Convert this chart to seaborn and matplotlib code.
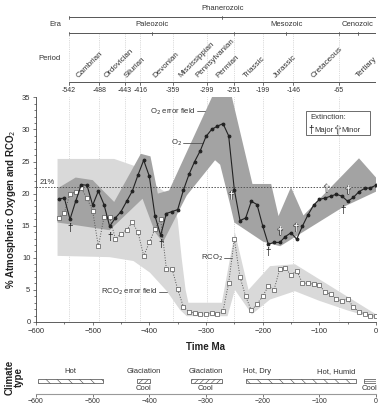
import matplotlib
matplotlib.use("Agg")
import matplotlib.pyplot as plt
import matplotlib.patheffects as pe
from matplotlib.patches import Rectangle
import numpy as np
import seaborn as sns

# --- DATA ---
time_ma = [-560, -550, -540, -530, -520, -510, -500, -490, -480, -470,
           -460, -450, -440, -430, -420, -410, -400, -390, -380, -370,
           -360, -350, -340, -330, -320, -310, -300, -290, -280, -270,
           -260, -250, -240, -230, -220, -210, -200, -190, -180, -170,
           -160, -150, -140, -130, -120, -110, -100, -90, -80, -70,
           -60, -50, -40, -30, -20, -10, 0]
o2 = [19.2, 19.3, 16.0, 18.8, 21.4, 21.3, 18.2, 20.4, 18.3, 14.9,
      16.2, 17.2, 18.8, 20.4, 22.9, 25.2, 22.7, 16.5, 13.5, 16.9,
      17.2, 17.5, 20.5, 23.0, 25.0, 26.7, 28.9, 30.0, 30.5, 30.9,
      29.0, 20.6, 15.8, 16.2, 18.8, 18.3, 15.0, 12.1, 12.4, 12.4,
      13.3, 13.9, 12.9, 14.9, 16.7, 18.2, 19.1, 19.3, 19.6, 19.9,
      19.6, 18.8, 19.4, 20.3, 20.8, 20.9, 21.3]
rco2 = [16.2, 17.0, 20.0, 20.2, 20.8, 19.3, 17.3, 11.8, 16.3, 16.3,
        13.0, 13.7, 14.4, 15.5, 14.0, 10.3, 12.4, 14.5, 16.0, 8.3,
        8.3, 5.1, 2.4, 1.6, 1.4, 1.3, 1.3, 1.4, 1.2, 1.7,
        6.1, 12.9, 7.0, 4.0, 1.8, 2.8, 4.0, 5.6, 5.0, 8.2,
        8.4, 7.3, 8.0, 6.1, 6.0, 5.9, 5.7, 4.7, 4.3, 3.6,
        3.2, 3.6, 2.3, 1.6, 1.3, 1.0, 0.9]

# O2 error field outline
o2_err_up_t = [-562, -530, -500, -462, -415, -398, -385, -365, -288, -255,
               -218, -185, -172, -150, -128, -30, 0]
o2_err_up_v = [20.8, 22.5, 22.1, 18.7, 26.2, 25.8, 20.0, 20.5, 35.3, 35.3,
               21.5, 21.5, 16.5, 21.0, 16.6, 25.5, 22.5]
o2_err_lo_t = [-562, -470, -412, -390, -376, -334, -284, -275, -258, -250,
               -199, -169, -140, -58, 0]
o2_err_lo_v = [15.5, 14.3, 19.2, 14.0, 12.4, 19.7, 25.2, 24.5, 18.5, 15.5,
               12.5, 11.8, 13.4, 17.9, 20.3]

# RCO2 error field outline
rco2_err_up_t = [-562, -462, -413, -393, -360, -350, -343, -336, -331, -272,
                 -249, -225, -187, -143, 0]
rco2_err_up_v = [25.4, 25.4, 23.9, 21.5, 19.5, 16.0, 10.0, 5.0, 3.0, 3.0,
                 14.0, 5.0, 8.7, 9.0, 1.2]
rco2_err_lo_t = [-562, -470, -428, -399, -369, -346, -334, -262, -249, -219,
                 -187, -143, -100, -50, 0]
rco2_err_lo_v = [10.3, 10.1, 9.5, 7.7, 4.8, 1.9, 0.9, 0.9, 5.0, 1.2,
                 3.5, 4.8, 3.3, 1.8, 0.5]

# extinction events
major_t = [-540, -469, -379, -190, -59]
major_v = [14.6, 13.3, 12.2, 10.9, 17.5]
minor_t = [-255, -169, -141, -87, -49]
minor_v = [19.7, 14.1, 14.7, 20.8, 20.5]

# geologic time scale
boundaries = [-542, -488, -443, -416, -359, -299, -251, -199, -146, -65]
periods = ["Cambrian", "Ordovician", "Silurian", "Devonian", "Mississippian",
           "Pennsylvanian", "Permian", "Triassic", "Jurassic", "Cretaceous", "Tertiary"]
period_label_t = [-522, -473, -438, -387, -341, -311, -275, -228, -175, -108, -28]
eras = ["Paleozoic", "Mesozoic", "Cenozoic"]
era_t = [-396, -158, -32]
era_bounds = [-542, -251, -65, 0]

# climate bands
climate_start = [-596, -422, -327, -230, -22]
climate_end = [-481, -399, -271, -35, 0]
climate_hatch = ["\\\\\\", "//////", "//////", "\\\\\\", "-----"]
climate_top_t = [-540, -410, -300, -210, -70]
climate_top_txt = ["Hot", "Glaciation", "Glaciation", "Hot, Dry", "Hot, Humid"]
climate_bot_t = [-410, -300, -11]
climate_bot_txt = ["Cool", "Cool", "Cool"]

# --- STYLE ---
sns.set_style("ticks")
plt.rcParams["font.family"] = ["Liberation Sans", "DejaVu Sans"]
plt.rcParams["hatch.linewidth"] = 0.4
plt.rcParams["hatch.color"] = "#444444"

DARK = "#a3a3a3"
LIGHT = "#d9d9d9"
TXT = "#333333"
FS = 5.5

W, H = 380, 408
fig = plt.figure(figsize=(3.8, 4.08), dpi=100)

# ---------------- main panel ----------------
ax = fig.add_axes([36 / W, 1 - 322 / H, 340 / W, (322 - 97.3) / H])
ax.set_xlim(-600, 0)
ax.set_ylim(0, 35)

for b in boundaries:
    ax.axvline(b, color="#bbbbbb", lw=0.5, ls=":", zorder=0)

ax.fill(rco2_err_up_t + rco2_err_lo_t[::-1], rco2_err_up_v + rco2_err_lo_v[::-1],
        color=LIGHT, lw=0, zorder=1)
ax.fill(o2_err_up_t + o2_err_lo_t[::-1], o2_err_up_v + o2_err_lo_v[::-1],
        color=DARK, lw=0, zorder=2)

ax.axhline(21, color="#555555", lw=0.7, ls=(0, (1.5, 1.5)), zorder=3)
ax.text(-593, 21.2, "21%", fontsize=FS, color=TXT, va="bottom", ha="left")

sns.lineplot(x=time_ma, y=rco2, ax=ax, color="#555555", lw=0.7, ls=":",
             marker="s", markersize=2.8, markerfacecolor="white",
             markeredgecolor="#555555", markeredgewidth=0.5, zorder=4)
sns.lineplot(x=time_ma, y=o2, ax=ax, color="#222222", lw=0.8,
             marker="o", markersize=2.0, markerfacecolor="#222222",
             markeredgecolor="#222222", zorder=5)

outline = [pe.withStroke(linewidth=1.1, foreground="#444444")]
for t, v in zip(major_t, major_v):
    ax.text(t, v, "\u2020", fontsize=7, color="#111111", ha="center", va="center", zorder=6)
for t, v in zip(minor_t, minor_v):
    ax.text(t, v, "\u2020", fontsize=7, color="white", ha="center", va="center", zorder=6,
            path_effects=outline)
    ax.text(t, v, "\u2020", fontsize=7, color="white", ha="center", va="center", zorder=7)

# annotations
ax.text(-319, 32.8, "O$_2$ error field", fontsize=FS, color=TXT, ha="right", va="center")
ax.plot([-316, -302], [32.8, 32.8], color="#555555", lw=0.6)
ax.text(-343, 27.9, "O$_2$", fontsize=FS, color=TXT, ha="right", va="center")
ax.plot([-340, -305], [27.9, 27.9], color="#555555", lw=0.6)
ax.text(-270, 10.0, "RCO$_2$", fontsize=FS, color=TXT, ha="right", va="center")
ax.plot([-268, -254], [10.0, 10.0], color="#555555", lw=0.6)
ax.text(-386, 4.7, "RCO$_2$ error field", fontsize=FS, color=TXT, ha="right", va="center")
ax.plot([-383, -368], [4.7, 4.7], color="#555555", lw=0.6)

# extinction key
ax.add_patch(Rectangle((-123.6, 29.1), 113, 3.8, facecolor="white",
                       edgecolor="#555555", lw=0.6, zorder=6))
ax.text(-116, 31.9, "Extinction:", fontsize=FS, color=TXT, va="center", zorder=7)
ax.text(-114, 29.9, "\u2020", fontsize=7, color="#111111", ha="center", va="center", zorder=7)
ax.text(-108, 29.9, "Major", fontsize=FS, color=TXT, va="center", zorder=7)
ax.text(-67, 29.9, "\u2020", fontsize=7, color="white", ha="center", va="center", zorder=7,
        path_effects=outline)
ax.text(-67, 29.9, "\u2020", fontsize=7, color="white", ha="center", va="center", zorder=8)
ax.text(-61, 29.9, "Minor", fontsize=FS, color=TXT, va="center", zorder=7)

ax.set_xticks(range(-600, 1, 100))
ax.set_xticks(range(-600, 1, 50), minor=True)
ax.set_yticks(range(0, 36, 5))
ax.set_yticks(range(0, 36, 1), minor=True)
ax.tick_params(which="both", direction="out", width=0.5, colors="#444444",
               labelsize=FS, labelcolor=TXT, pad=1.5)
ax.tick_params(which="major", length=2.5)
ax.tick_params(which="minor", length=1.3)
sns.despine(ax=ax)
for s in ["left", "bottom"]:
    ax.spines[s].set_linewidth(0.6)
    ax.spines[s].set_color("#444444")
ax.set_xlabel("Time Ma", fontsize=7, fontweight="bold", color="#222222", labelpad=5)
ax.set_ylabel("% Atmospheric Oxygen and RCO$_2$", fontsize=7, fontweight="bold",
              color="#222222", labelpad=3)

# ---------------- header (time scale) ----------------
hd = fig.add_axes([36 / W, 1 - 95 / H, 340 / W, 95 / H])
hd.set_xlim(-600, 0)
hd.set_ylim(95, 0)
hd.axis("off")
lc = "#555555"
hd.text(-271, 8, "Phanerozoic", fontsize=FS, color=TXT, ha="center", va="center")
hd.plot([-542, 0], [17, 17], color=lc, lw=0.7)
for t in [-542, -271, 0]:
    hd.plot([t, t], [16, 18.5], color=lc, lw=0.6)
hd.text(-556, 25, "Era", fontsize=FS, color=TXT, ha="right", va="center")
for name, t in zip(eras, era_t):
    hd.text(t, 25, name, fontsize=FS, color=TXT, ha="center", va="center")
hd.plot([-542, 0], [33, 33], color=lc, lw=0.7)
for t in era_bounds + era_t:
    hd.plot([t, t], [31.5, 34.5], color=lc, lw=0.6)
hd.text(-556, 58, "Period", fontsize=FS, color=TXT, ha="right", va="center")
for name, t in zip(periods, period_label_t):
    hd.text(t, 79, name, fontsize=5.8, color=TXT, ha="left", va="bottom",
            rotation=45, rotation_mode="anchor")
hd.plot([-542, 0], [82, 82], color=lc, lw=0.7)
for b in boundaries:
    hd.plot([b, b], [34, 82], color="#bbbbbb", lw=0.5, ls=":")
    hd.plot([b, b], [82, 84.5], color=lc, lw=0.6)
    hd.text(b, 90, str(b), fontsize=5, color=TXT, ha="center", va="center")
hd.plot([0, 0], [82, 84.5], color=lc, lw=0.6)

# ---------------- climate strip ----------------
cl = fig.add_axes([36 / W, 1 - 394 / H, 340 / W, 30 / H])
cl.set_xlim(-600, 0)
cl.set_ylim(394, 364)
for s0, s1, h in zip(climate_start, climate_end, climate_hatch):
    cl.add_patch(Rectangle((s0, 379), s1 - s0, 4.5, facecolor="white",
                           edgecolor="#444444", lw=0.5, hatch=h))
for t, s in zip(climate_top_t, climate_top_txt):
    cl.text(t, 372, s, fontsize=FS, color=TXT, ha="center", va="center")
for t, s in zip(climate_bot_t, climate_bot_txt):
    cl.text(t, 389, s, fontsize=FS, color=TXT, ha="center", va="center")
cl.set_yticks([])
cl.set_xticks(range(-600, 1, 100))
cl.tick_params(axis="x", direction="out", length=2, width=0.5, colors="#444444",
               labelsize=5, labelcolor=TXT, pad=1)
sns.despine(ax=cl, left=True)
cl.spines["bottom"].set_color("#999999")
cl.spines["bottom"].set_linewidth(0.8)
fig.text(14 / W, 1 - 377 / H, "Climate\ntype", fontsize=7, fontweight="bold",
         color="#222222", rotation=90, ha="center", va="center", linespacing=0.95)

fig.savefig("out.png", dpi=100)
